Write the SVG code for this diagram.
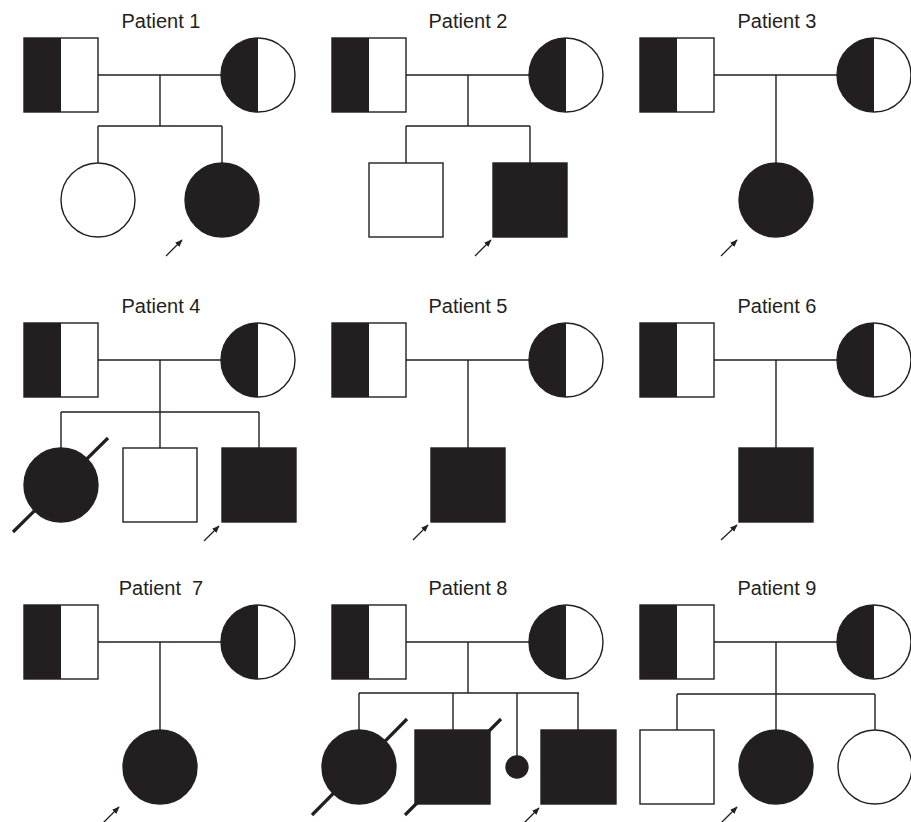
<svg xmlns="http://www.w3.org/2000/svg" width="911" height="822" viewBox="0 0 911 822">
<style>
.bg{fill:#fff}
.title{font-family:"Liberation Sans",Arial,sans-serif;font-size:20px;fill:#231f20;text-anchor:middle;white-space:pre}
.line{stroke:#231f20;stroke-width:1.4;fill:none}
.open{fill:#fff;stroke:#231f20;stroke-width:1.4}
.aff{fill:#231f20;stroke:#231f20;stroke-width:1.4}
.half{fill:#231f20;stroke:none}
.outline{fill:none;stroke:#231f20;stroke-width:1.4}
.slash{stroke:#231f20;stroke-width:3.2;fill:none}
.arrow{stroke:#231f20;stroke-width:1.3;fill:none;marker-end:url(#ah)}
</style>
<defs>
<marker id="ah" viewBox="0 0 10 10" refX="9" refY="5" markerWidth="7.5" markerHeight="7.5" orient="auto" markerUnits="userSpaceOnUse">
<path d="M0,1 L10,5 L0,9 z" fill="#231f20"/>
</marker>
<g id="father">
<rect x="24" y="38" width="74" height="74" fill="#fff"/>
<rect x="24" y="38" width="37" height="74" class="half"/>
<rect x="24" y="38" width="74" height="74" class="outline"/>
</g>
<g id="mother">
<circle cx="258" cy="75" r="37" fill="#fff"/>
<path d="M258,38 A37,37 0 0 0 258,112 Z" class="half"/>
<circle cx="258" cy="75" r="37" class="outline"/>
</g>
</defs>
<rect class="bg" x="0" y="0" width="911" height="822"/>

<!-- Patient 1 -->
<g id="patient1" transform="translate(0,0)">
<text class="title" x="161" y="28">Patient 1</text>
<g id="connectors-p1">
<path class="line" d="M98,75 H221 M160,75 V126 M98,126 H222 M98,126 V163 M222,126 V163"/>
<path class="arrow" d="M166,256 L182,240"/>
</g>
<g id="p1-father"><use href="#father"/></g>
<g id="p1-mother"><use href="#mother"/></g>
<g id="p1-sister"><circle class="open" cx="98" cy="200" r="37"/></g>
<g id="p1-proband"><circle class="aff" cx="222" cy="200" r="37"/></g>
</g>

<!-- Patient 2 -->
<g id="patient2" transform="translate(308,0)">
<text class="title" x="160" y="28">Patient 2</text>
<g id="connectors-p2">
<path class="line" d="M98,75 H221 M160,75 V126 M98,126 H222 M98,126 V163 M222,126 V163"/>
<path class="arrow" d="M167,256 L183,240"/>
</g>
<g id="p2-father"><use href="#father"/></g>
<g id="p2-mother"><use href="#mother"/></g>
<g id="p2-brother"><rect class="open" x="61" y="163" width="74" height="74"/></g>
<g id="p2-proband"><rect class="aff" x="185" y="163" width="74" height="74"/></g>
</g>

<!-- Patient 3 -->
<g id="patient3" transform="translate(616,0)">
<text class="title" x="161" y="28">Patient 3</text>
<g id="connectors-p3">
<path class="line" d="M98,75 H221 M160,75 V163"/>
<path class="arrow" d="M105,256 L121,240"/>
</g>
<g id="p3-father"><use href="#father"/></g>
<g id="p3-mother"><use href="#mother"/></g>
<g id="p3-proband"><circle class="aff" cx="160" cy="200" r="37"/></g>
</g>

<!-- Patient 4 -->
<g id="patient4" transform="translate(0,285)">
<text class="title" x="161" y="28">Patient 4</text>
<g id="connectors-p4">
<path class="line" d="M98,75 H221 M160,75 V127 M61,127 H259 M61,127 V163 M160,127 V163 M259,127 V163"/>
<path class="arrow" d="M204,256 L219,241"/>
</g>
<g id="p4-father"><use href="#father"/></g>
<g id="p4-mother"><use href="#mother"/></g>
<g id="p4-sister"><circle class="aff" cx="61" cy="200" r="37"/><path class="slash" d="M13,247 L108,153"/></g>
<g id="p4-brother"><rect class="open" x="123" y="163" width="74" height="74"/></g>
<g id="p4-proband"><rect class="aff" x="222" y="163" width="74" height="74"/></g>
</g>

<!-- Patient 5 -->
<g id="patient5" transform="translate(308,285)">
<text class="title" x="160" y="28">Patient 5</text>
<g id="connectors-p5">
<path class="line" d="M98,75 H221 M160,75 V163"/>
<path class="arrow" d="M105,255 L120,240"/>
</g>
<g id="p5-father"><use href="#father"/></g>
<g id="p5-mother"><use href="#mother"/></g>
<g id="p5-proband"><rect class="aff" x="123" y="163" width="74" height="74"/></g>
</g>

<!-- Patient 6 -->
<g id="patient6" transform="translate(616,285)">
<text class="title" x="161" y="28">Patient 6</text>
<g id="connectors-p6">
<path class="line" d="M98,75 H221 M160,75 V163"/>
<path class="arrow" d="M105,255 L121,240"/>
</g>
<g id="p6-father"><use href="#father"/></g>
<g id="p6-mother"><use href="#mother"/></g>
<g id="p6-proband"><rect class="aff" x="123" y="163" width="74" height="74"/></g>
</g>

<!-- Patient 7 -->
<g id="patient7" transform="translate(0,567)">
<text class="title" x="161" y="28">Patient  7</text>
<g id="connectors-p7">
<path class="line" d="M98,75 H221 M160,75 V163"/>
<path class="arrow" d="M103,256 L119,240"/>
</g>
<g id="p7-father"><use href="#father"/></g>
<g id="p7-mother"><use href="#mother"/></g>
<g id="p7-proband"><circle class="aff" cx="160" cy="200" r="37"/></g>
</g>

<!-- Patient 8 -->
<g id="patient8" transform="translate(308,567)">
<text class="title" x="160" y="28">Patient 8</text>
<g id="connectors-p8">
<path class="line" d="M98,75 H221 M160,75 V126 M51,126 H271 M51,126 V163 M145,126 V163 M209,126 V189 M270,126 V163"/>
<path class="arrow" d="M216,256 L231,241"/>
</g>
<g id="p8-father"><use href="#father"/></g>
<g id="p8-mother"><use href="#mother"/></g>
<g id="p8-sister"><circle class="aff" cx="51" cy="200" r="37"/><path class="slash" d="M4,248 L99,152"/></g>
<g id="p8-brother"><rect class="aff" x="107" y="163" width="75" height="74"/><path class="slash" d="M97,248 L193,152"/></g>
<g id="p8-pregnancy"><circle class="aff" cx="209" cy="200" r="11"/></g>
<g id="p8-proband"><rect class="aff" x="233" y="163" width="75" height="74"/></g>
</g>

<!-- Patient 9 -->
<g id="patient9" transform="translate(616,567)">
<text class="title" x="161" y="28">Patient 9</text>
<g id="connectors-p9">
<path class="line" d="M98,75 H221 M160,75 V127 M61,127 H259 M61,127 V163 M160,127 V163 M259,127 V163"/>
<path class="arrow" d="M105,256 L121,240"/>
</g>
<g id="p9-father"><use href="#father"/></g>
<g id="p9-mother"><use href="#mother"/></g>
<g id="p9-brother"><rect class="open" x="24" y="163" width="74" height="74"/></g>
<g id="p9-proband"><circle class="aff" cx="160" cy="200" r="37"/></g>
<g id="p9-sister"><circle class="open" cx="259" cy="200" r="37"/></g>
</g>
</svg>
